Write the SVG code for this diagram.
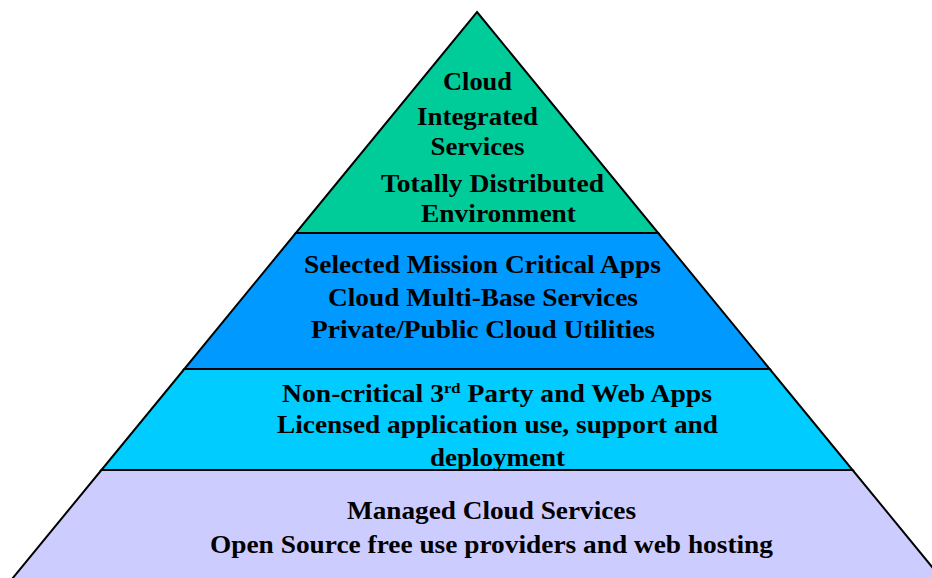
<svg xmlns="http://www.w3.org/2000/svg" width="932" height="578" viewBox="0 0 932 578">
  <style>
    .tier { stroke: #000; stroke-width: 2; stroke-linejoin: miter; }
    .label { font-family: "Liberation Serif", "Times New Roman", serif; font-weight: bold; font-size: 25px; fill: #000; text-anchor: middle; }
    .sup { font-size: 15px; }
  </style>
  <rect width="932" height="578" fill="#fff"/>
  <!-- Pyramid tiers, bottom to top -->
  <g id="tier-managed">
    <polygon class="tier" fill="#CCCCFF" points="101.4,470 852.6,470 951,590 3,590"/>
    <text class="label" x="491.5" y="519" textLength="289" lengthAdjust="spacingAndGlyphs">Managed Cloud Services</text>
    <text class="label" x="491.5" y="553" textLength="563" lengthAdjust="spacingAndGlyphs">Open Source free use providers and web hosting</text>
  </g>
  <g id="tier-licensed">
    <polygon class="tier" fill="#00CCFF" points="184.3,369 769.7,369 852.6,470 101.4,470"/>
    <text class="label" x="497" y="402" textLength="430" lengthAdjust="spacingAndGlyphs">Non-critical 3<tspan class="sup" dy="-9">rd</tspan><tspan dy="9"> Party and Web Apps</tspan></text>
    <text class="label" x="497.5" y="433" textLength="441" lengthAdjust="spacingAndGlyphs">Licensed application use, support and</text>
    <text class="label" x="497.5" y="466" textLength="135" lengthAdjust="spacingAndGlyphs">deployment</text>
  </g>
  <g id="tier-mission">
    <polygon class="tier" fill="#0099FF" points="295.8,233 658.2,233 769.7,369 184.3,369"/>
    <text class="label" x="482.5" y="273" textLength="357" lengthAdjust="spacingAndGlyphs">Selected Mission Critical Apps</text>
    <text class="label" x="483" y="306" textLength="310" lengthAdjust="spacingAndGlyphs">Cloud Multi-Base Services</text>
    <text class="label" x="483" y="338" textLength="344" lengthAdjust="spacingAndGlyphs">Private/Public Cloud Utilities</text>
  </g>
  <g id="tier-integrated">
    <polygon class="tier" fill="#00CC99" points="477,12 658.2,233 295.8,233"/>
    <text class="label" x="477.5" y="90" textLength="69" lengthAdjust="spacingAndGlyphs">Cloud</text>
    <text class="label" x="477.5" y="125" textLength="121" lengthAdjust="spacingAndGlyphs">Integrated</text>
    <text class="label" x="477.5" y="155" textLength="94" lengthAdjust="spacingAndGlyphs">Services</text>
    <text class="label" x="492.5" y="192" textLength="223" lengthAdjust="spacingAndGlyphs">Totally Distributed</text>
    <text class="label" x="498.5" y="222" textLength="155" lengthAdjust="spacingAndGlyphs">Environment</text>
  </g>
  <g id="connectors"/>
</svg>
